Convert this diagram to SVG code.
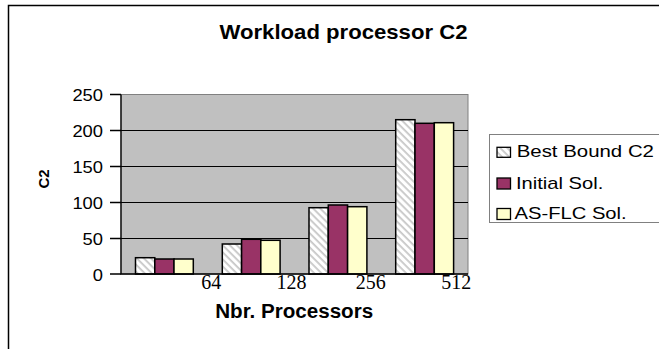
<svg xmlns="http://www.w3.org/2000/svg" width="659" height="349" viewBox="0 0 659 349">
  <style>
    .frame { fill: #ffffff; stroke: #000000; stroke-width: 1.5; }
    .plot { fill: #c0c0c0; stroke: #808080; stroke-width: 1; }
    .grid { stroke: #000000; stroke-width: 1; }
    .axis { stroke: #000000; stroke-width: 1.3; fill: none; }
    .bar { stroke: #000000; stroke-width: 1.5; }
    .best { fill: url(#hatch); }
    .init { fill: #993366; }
    .flc { fill: #ffffcc; }
    .title { font-family: "Liberation Sans", Arial, sans-serif; font-weight: bold; font-size: 21px; fill: #000; }
    .axtitle { font-family: "Liberation Sans", Arial, sans-serif; font-weight: bold; font-size: 20px; fill: #000; }
    .ylab { font-family: "Liberation Sans", Arial, sans-serif; font-size: 16.5px; fill: #000; text-anchor: end; }
    .xlab { font-family: "Liberation Serif", "Times New Roman", serif; font-size: 20px; fill: #000; text-anchor: middle; }
    .leg { font-family: "Liberation Sans", Arial, sans-serif; font-size: 17px; fill: #000; }
    .legbox { fill: #ffffff; stroke: #808080; stroke-width: 1; }
    .key { stroke: #000000; stroke-width: 1.3; }
  </style>
  <defs>
    <!-- light diagonal hatch running top-left to bottom-right -->
    <pattern id="hatch" patternUnits="userSpaceOnUse" width="5" height="5" patternTransform="rotate(45)">
      <rect width="5" height="5" fill="#ffffff"/>
      <rect width="5" height="1.8" fill="#c8c8c8"/>
    </pattern>
  </defs>

  <!-- chart frame -->
  <rect class="frame" x="8.5" y="5.5" width="700" height="400"/>

  <!-- title -->
  <text id="title" class="title" x="343.5" y="39" text-anchor="middle" textLength="248" lengthAdjust="spacingAndGlyphs">Workload processor C2</text>

  <!-- plot area and gridlines -->
  <g id="plot">
    <rect class="plot" x="121" y="94.5" width="347" height="179.5"/>
    <line class="grid" x1="121" y1="130.5" x2="468" y2="130.5"/>
    <line class="grid" x1="121" y1="166.5" x2="468" y2="166.5"/>
    <line class="grid" x1="121" y1="202.5" x2="468" y2="202.5"/>
    <line class="grid" x1="121" y1="238.5" x2="468" y2="238.5"/>
  </g>

  <!-- bars: category width 86.75, bar width 19.28 -->
  <g id="series-best">
    <rect class="bar best" x="135.5" y="257.7" width="19.3" height="16.3"/>
    <rect class="bar best" x="222.3" y="244" width="19.3" height="30"/>
    <rect class="bar best" x="309" y="207.7" width="19.3" height="66.3"/>
    <rect class="bar best" x="395.7" y="119.7" width="19.3" height="154.3"/>
  </g>
  <g id="series-initial">
    <rect class="bar init" x="154.8" y="259" width="19.3" height="15"/>
    <rect class="bar init" x="241.6" y="239.3" width="19.3" height="34.7"/>
    <rect class="bar init" x="328.3" y="205" width="19.3" height="69"/>
    <rect class="bar init" x="415" y="123.3" width="19.3" height="150.7"/>
  </g>
  <g id="series-flc">
    <rect class="bar flc" x="174" y="259" width="19.3" height="15"/>
    <rect class="bar flc" x="260.8" y="240.3" width="19.3" height="33.7"/>
    <rect class="bar flc" x="347.6" y="206.7" width="19.3" height="67.3"/>
    <rect class="bar flc" x="434.3" y="122.7" width="19.3" height="151.3"/>
  </g>

  <!-- axes and ticks -->
  <g id="axes">
    <path class="axis" d="M121,94.5 V274 H468"/>
    <path class="axis" d="M110,94.5 H121 M110,130.5 H121 M110,166.5 H121 M110,202.5 H121 M110,238.5 H121 M110,274 H121"/>
  </g>

  <!-- value axis labels -->
  <g id="y-labels">
    <text class="ylab" x="103" y="100.7" textLength="30.6" lengthAdjust="spacingAndGlyphs">250</text>
    <text class="ylab" x="103" y="136.7" textLength="30.6" lengthAdjust="spacingAndGlyphs">200</text>
    <text class="ylab" x="103" y="172.7" textLength="30.6" lengthAdjust="spacingAndGlyphs">150</text>
    <text class="ylab" x="103" y="208.7" textLength="30.6" lengthAdjust="spacingAndGlyphs">100</text>
    <text class="ylab" x="103" y="244.7" textLength="20.4" lengthAdjust="spacingAndGlyphs">50</text>
    <text class="ylab" x="103" y="280.7" textLength="10.2" lengthAdjust="spacingAndGlyphs">0</text>
  </g>
  <text id="y-title" class="axtitle" transform="translate(49,179) rotate(-90)" text-anchor="middle" style="font-size:15px">C2</text>

  <!-- category axis labels -->
  <g id="x-labels">
    <text class="xlab" x="211.3" y="288.5">64</text>
    <text class="xlab" x="291.5" y="288.5">128</text>
    <text class="xlab" x="370.8" y="288.5">256</text>
    <text class="xlab" x="456.2" y="288.5">512</text>
  </g>
  <text id="x-title" class="axtitle" x="294.2" y="318.3" text-anchor="middle" textLength="158" lengthAdjust="spacingAndGlyphs">Nbr. Processors</text>

  <!-- legend -->
  <g id="legend">
    <rect class="legbox" x="489.5" y="134.5" width="200" height="88"/>
    <g id="legend-best">
      <rect class="key best" x="497" y="147.3" width="13.5" height="10"/>
      <text class="leg" x="516.7" y="157.3" textLength="137.3" lengthAdjust="spacingAndGlyphs">Best Bound C2</text>
    </g>
    <g id="legend-initial">
      <rect class="key init" x="497" y="178" width="13.5" height="11"/>
      <text class="leg" x="516" y="189" textLength="87.3" lengthAdjust="spacingAndGlyphs">Initial Sol.</text>
    </g>
    <g id="legend-flc">
      <rect class="key flc" x="497" y="208.5" width="13.5" height="11"/>
      <text class="leg" x="514.5" y="219.3" textLength="112.2" lengthAdjust="spacingAndGlyphs">AS-FLC Sol.</text>
    </g>
  </g>
</svg>
